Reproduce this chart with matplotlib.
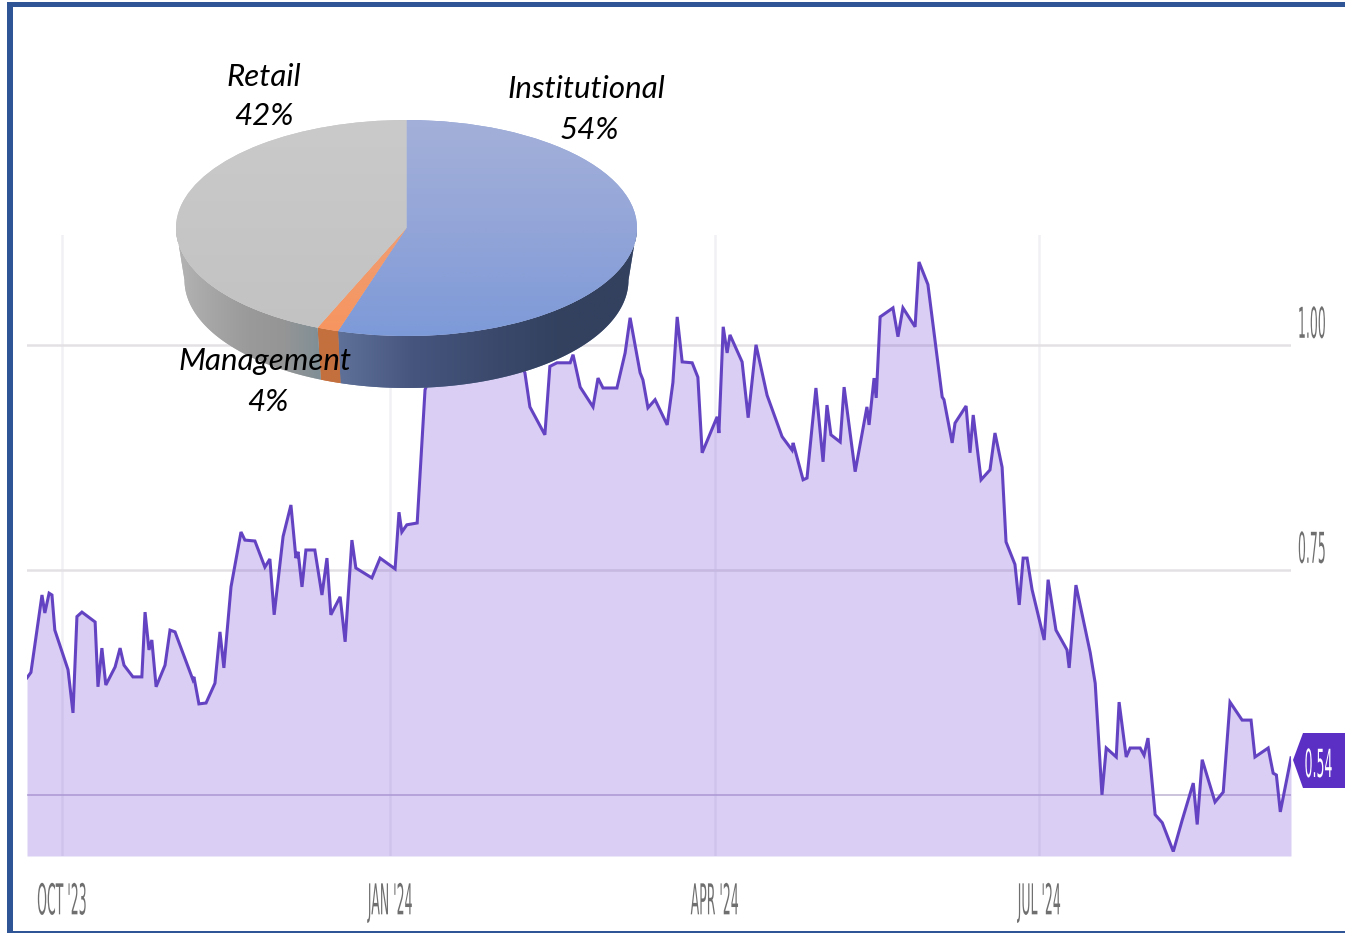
import matplotlib
matplotlib.use("Agg")
import matplotlib.pyplot as plt
import numpy as np
from matplotlib.patches import Polygon
from matplotlib.patheffects import AbstractPathEffect
from matplotlib.transforms import Affine2D, ScaledTranslation

# days since 1 Oct 2023
days = [-9.8, -8.7, -5.6, -4.8, -3.6, -2.8, -2.0, 1.7, 3.1, 4.2, 5.6, 9.3, 10.1, 11.2, 12.3, 14.9,
        16.3, 17.4, 19.9, 22.4, 23.3, 24.4, 25.2, 26.4, 28.9, 30.3, 31.7, 36.7, 37.0, 38.4, 40.4, 42.9,
        44.3, 45.4, 47.4, 50.2, 51.3, 54.1, 56.9, 58.3, 59.5, 62.0, 64.2, 65.6, 66.2, 67.3, 68.4, 70.9,
        72.9, 74.3, 75.4, 78.0, 79.4, 81.3, 82.4, 86.9, 89.2, 93.4, 94.5, 95.3, 96.7, 99.6, 101.8,
        106.0, 114.4, 122.8, 127.0, 129.8, 131.2, 135.4, 136.8, 138.8, 142.5, 143.3, 145.3, 148.9,
        150.3, 151.7, 155.6, 157.9, 159.3, 162.1, 162.9, 164.3, 166.3, 169.7, 171.3, 172.5, 173.9,
        176.7, 178.3, 179.5, 183.7, 184.2, 185.4, 186.5, 187.3, 190.7, 192.4, 194.6, 197.7, 201.9,
        204.7, 205.0, 207.8, 208.9, 211.4, 213.4, 214.5, 215.6, 218.2, 219.3, 222.4, 225.7, 226.3,
        227.7, 228.3, 229.4, 233.0, 234.4, 235.8, 239.2, 240.3, 242.8, 246.8, 247.3, 249.6, 250.4,
        253.5, 254.6, 255.5, 257.7, 260.2, 261.6, 263.6, 264.7, 267.2, 268.4, 269.5, 270.6, 272.0,
        275.4, 276.5, 278.7, 281.8, 282.4, 284.3, 288.3, 289.7, 291.6, 292.8, 295.6, 296.4, 298.4,
        299.5, 302.3, 303.4, 304.5, 306.5, 308.5, 311.6, 314.1, 317.2, 318.3, 319.7, 323.3, 325.6,
        327.5, 330.9, 333.4, 334.5, 338.2, 339.6, 340.5, 341.6, 344.6]
# the stretch behind the pie (days 106-127) is hidden, so those are guesses
price = [0.630, 0.636, 0.722, 0.702, 0.724, 0.722, 0.683, 0.639, 0.591, 0.698, 0.703, 0.692, 0.620, 0.663, 0.622, 0.642,
         0.663, 0.644, 0.631, 0.631, 0.703, 0.661, 0.672, 0.620, 0.644, 0.683, 0.681, 0.628, 0.631, 0.601, 0.602, 0.624,
         0.681, 0.641, 0.731, 0.792, 0.783, 0.782, 0.753, 0.762, 0.700, 0.787, 0.822, 0.763, 0.770, 0.731, 0.772, 0.772,
         0.722, 0.763, 0.700, 0.720, 0.670, 0.783, 0.752, 0.741, 0.763, 0.751, 0.814, 0.792, 0.800, 0.802, 0.950,
         0.994, 1.006, 1.000, 0.989, 0.969, 0.931, 0.900, 0.976, 0.980, 0.980, 0.989, 0.953, 0.931,
         0.963, 0.952, 0.952, 0.991, 1.030, 0.969, 0.961, 0.930, 0.939, 0.911, 0.958, 1.031, 0.981,
         0.980, 0.964, 0.880, 0.920, 0.902, 1.020, 0.991, 1.011, 0.981, 0.919, 1.000, 0.944, 0.898,
         0.883, 0.891, 0.850, 0.852, 0.952, 0.870, 0.933, 0.900, 0.892, 0.953, 0.859, 0.931, 0.911,
         0.963, 0.941, 1.031, 1.041, 1.009, 1.041, 1.020, 1.092, 1.067, 0.942, 0.939, 0.891, 0.913,
         0.932, 0.880, 0.922, 0.850, 0.861, 0.902, 0.864, 0.781, 0.756, 0.711, 0.763, 0.763, 0.728,
         0.672, 0.739, 0.683, 0.661, 0.641, 0.733, 0.658, 0.624, 0.500, 0.552, 0.542, 0.603, 0.542,
         0.552, 0.552, 0.544, 0.563, 0.478, 0.469, 0.437, 0.472, 0.513, 0.467, 0.539, 0.492, 0.503,
         0.603, 0.583, 0.583, 0.542, 0.552, 0.524, 0.522, 0.481, 0.541]

tick_days = [0, 92, 183, 274]
tick_names = ["OCT '23", "JAN '24", "APR '24", "JUL '24"]
y_ticks = [0.50, 0.75, 1.00]
y_names = ["", "0.75", "1.00"]
last_price = "0.54"

# slice sizes as the pie actually draws them, labels as printed
pie_names = ["Institutional", "Management", "Retail"]
pie_sizes = [54.8, 1.5, 43.7]
pie_percent = ["54%", "4%", "42%"]

W, H = 1345, 933
PURPLE = "#6443c2"
FRAME = "#2f5597"


class TallText(AbstractPathEffect):
    # stretches glyphs upward from the baseline, the screenshot text is squashed sideways
    def __init__(self, sy):
        self.sy = sy

    def draw_path(self, renderer, gc, tpath, affine, rgbFace=None):
        x0, y0 = affine.transform((0, 0))
        t = affine + Affine2D().translate(-x0, -y0).scale(1, self.sy).translate(x0, y0)
        renderer.draw_path(gc, tpath, t, rgbFace)


def box(x0, y0, x1, y1):
    return [x0 / W, 1 - y1 / H, (x1 - x0) / W, (y1 - y0) / H]


def gradient(ax, colors, extent, clip, horizontal=False):
    rgb = np.array([matplotlib.colors.to_rgb(c) for c in colors])
    pos = np.linspace(0, 1, len(colors))
    t = np.linspace(0, 1, 256)
    grad = np.stack([np.interp(t, pos, rgb[:, i]) for i in range(3)], axis=1)
    grad = grad[None, :, :] if horizontal else grad[:, None, :]
    im = ax.imshow(grad, extent=extent, aspect="auto", zorder=2, interpolation="bilinear")
    im.set_clip_path(clip)


fig = plt.figure(figsize=(W / 100, H / 100), dpi=100, facecolor="white")

# price chart
ax = fig.add_axes(box(27, 235, 1291, 856), zorder=1)
ax.set_xlim(days[0], days[-1])
ax.set_ylim(0.432, 1.122)
for s in ax.spines.values():
    s.set_visible(False)
ax.fill_between(days, price, 0.432, color="#7a4fd8", alpha=0.28, lw=0, zorder=3)
ax.plot(days, price, color=PURPLE, lw=2.2, zorder=4, solid_joinstyle="miter")
ax.set_xticks(tick_days, tick_names)
ax.yaxis.tick_right()
ax.set_yticks(y_ticks, y_names)
ax.tick_params(length=0)
ax.tick_params(axis="x", pad=42, labelsize=9, labelcolor="#6f6f6f")
ax.tick_params(axis="y", pad=5, labelsize=9, labelcolor="#6f6f6f")
ax.grid(axis="x", color="#f1f1f5", lw=1.8, zorder=1)
ax.grid(axis="y", color="#e4e1e4", lw=1.8, zorder=1)
ax.get_ygridlines()[0].set(color="#bdb3d2", lw=1.1, zorder=3.5)
for lab in ax.get_xticklabels():
    lab.set(family="Liberation Sans Narrow", va="baseline", ha="center")
    lab.set_path_effects([TallText(3.4)])
up = ScaledTranslation(0, 7 / 100, fig.dpi_scale_trans)
for lab in ax.get_yticklabels():
    lab.set(family="Liberation Sans Narrow", va="baseline")
    lab.set_transform(lab.get_transform() + up)
    lab.set_path_effects([TallText(3.4)])

# page-level bits: frame, pie wall, price badge
over = fig.add_axes([0, 0, 1, 1], zorder=2)
over.set_axis_off()
over.patch.set_alpha(0)

cx, cy, rx, ry = 406.5, 228, 230.5, 108
cx2, cy2, rx2 = 406.5, 280, 222
edges = np.concatenate([[0], np.cumsum(pie_sizes)]) * 3.6


def wall(a0, a1):
    a = np.radians(np.linspace(max(a0, 90), min(a1, 270), 80))
    top = np.column_stack([cx + rx * np.sin(a), cy - ry * np.cos(a)])
    bot = np.column_stack([cx2 + rx2 * np.sin(a), cy2 - ry * np.cos(a)])
    return np.vstack([top, bot[::-1]])


wall_colors = [["#5f7199", "#46557e", "#3b4a6d", "#33415f", "#33415f"],
               ["#c4703e", "#c4703e"],
               ["#b4b4b4", "#a6a6a6", "#9a9a9a", "#959595", "#7f8f96"]]
for i in range(3):
    pts = wall(edges[i], edges[i + 1])
    p = Polygon(pts, closed=True, fc=wall_colors[i][0], ec="none", zorder=1)
    over.add_patch(p)
    ends = (pts[:, 0].min(), pts[:, 0].max(), pts[:, 1].max(), pts[:, 1].min())
    gradient(over, wall_colors[i], ends, p, horizontal=True)

badge = Polygon([(1293, 760), (1303, 733), (1345, 733), (1345, 788), (1303, 788)],
                closed=True, fc="#5b2fc4", ec="none", zorder=3)
over.add_patch(badge)
over.fill([7, 7, 13, 13], [2, 933, 933, 2], color=FRAME, lw=0, zorder=5)
over.fill([7, 7, 1345, 1345], [2, 7, 7, 2], color=FRAME, lw=0, zorder=5)
over.fill([7, 7, 1345, 1345], [931, 933, 933, 931], color=FRAME, lw=0, zorder=5)
over.set_xlim(0, W)
over.set_ylim(H, 0)

# top face of the pie, axes squeezed so the circle turns into an ellipse
pie_ax = fig.add_axes(box(cx - rx, cy - ry, cx + rx, cy + ry), zorder=3)
wedges, _ = pie_ax.pie(pie_sizes, startangle=90, counterclock=False, radius=1,
                       colors=["#8fa3d8", "#f2996e", "#c6c6c6"])
pie_ax.set_aspect("auto")
face_colors = [["#a3b0d9", "#93a5d8", "#7d9ad8"], ["#e8a688", "#f7955f"], ["#cacaca", "#c2c2c2"]]
for w, c in zip(wedges, face_colors):
    gradient(pie_ax, c, (-1, 1, -1, 1), w)
pie_ax.set_xlim(-1, 1)
pie_ax.set_ylim(-1, 1)
pie_ax.set_axis_off()

# labels
label_font = dict(family="Lato", style="italic", fontsize=22.5, color="black", ha="center", va="center", zorder=10)
name_at = [(586, 89), (265, 361), (264, 77)]
pct_at = [(589, 130), (268, 402), (264, 116)]
for n, pc, a, b in zip(pie_names, pie_percent, name_at, pct_at):
    fig.text(a[0] / W, 1 - a[1] / H, n, **label_font)
    fig.text(b[0] / W, 1 - b[1] / H, pc, **label_font)

t = fig.text(1318.5 / W, 1 - 777 / H, last_price, family="Liberation Sans Narrow", fontsize=9,
             color="white", ha="center", va="baseline", zorder=10)
t.set_path_effects([TallText(3.1)])

fig.savefig("out.png", dpi=100)
